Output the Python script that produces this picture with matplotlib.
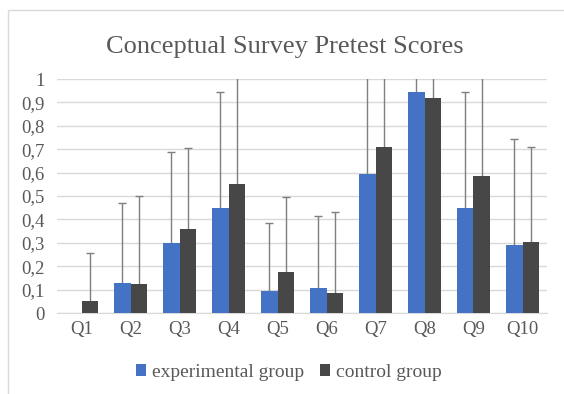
import matplotlib.pyplot as plt
from matplotlib.patches import Rectangle
import numpy as np

questions = ['Q1', 'Q2', 'Q3', 'Q4', 'Q5', 'Q6', 'Q7', 'Q8', 'Q9', 'Q10']
experimental = [0.0, 0.13, 0.30, 0.45, 0.095, 0.105, 0.595, 0.945, 0.45, 0.29]
control = [0.05, 0.125, 0.36, 0.55, 0.175, 0.085, 0.71, 0.92, 0.585, 0.305]
# upper error bar lengths (std dev), only the top half is shown; Q1 experimental has none
exp_err = [np.nan, 0.34, 0.39, 0.495, 0.29, 0.31, 0.52, 0.30, 0.495, 0.455]
ctl_err = [0.205, 0.375, 0.345, 0.50, 0.32, 0.345, 0.45, 0.31, 0.47, 0.405]

plt.rcParams['font.family'] = ['Liberation Serif', 'DejaVu Serif']
text_col = '#595959'
err_col = '#7f7f7f'

fig = plt.figure(figsize=(5.64, 3.94), dpi=100)
ax = fig.add_axes([57 / 564, 81 / 394, 490 / 564, 234 / 394])

x = np.arange(len(questions))
w = 0.33
groups = [(x - w / 2, experimental, exp_err, '#4472C4', 'experimental group'),
          (x + w / 2, control, ctl_err, '#474747', 'control group')]
for pos, vals, err, col, lab in groups:
    vals = np.array(vals)
    top = vals + np.array(err)
    ax.bar(pos, vals, w, color=col, label=lab, zorder=3)
    # upper half of the error bar only, cap at the top
    ax.vlines(pos, vals, top, color=err_col, linewidth=1.0, zorder=2.5)
    ax.plot(pos, top, ls='none', marker='_', ms=6, mew=1.0, color=err_col,
            zorder=2.5, clip_on=True)

ax.set_xlim(-0.5, len(x) - 0.5)
ax.set_ylim(0, 1)
ax.set_yticks(np.arange(0, 1.01, 0.1))
ax.set_yticklabels(['0'] + [f'0,{i}' for i in range(1, 10)] + ['1'])
ax.set_xticks(x)
ax.set_xticklabels(questions)
ax.tick_params(length=0, labelsize=13.5, colors=text_col)
ax.tick_params(axis='x', pad=6)
ax.tick_params(axis='y', pad=9)
ax.grid(axis='y', color='#d9d9d9', linewidth=1.0, zorder=0)
for s in ['top', 'right', 'left']:
    ax.spines[s].set_visible(False)
ax.spines['bottom'].set_color('#d9d9d9')

fig.text(0.505, 0.865, 'Conceptual Survey Pretest Scores', ha='center',
         fontsize=19, color=text_col)
fig.legend(loc='center', bbox_to_anchor=(0.512, 0.055), ncol=2, frameon=False,
           fontsize=14, handlelength=0.55, handleheight=0.55, handletextpad=0.3,
           columnspacing=0.8, labelcolor=text_col)

fig.patches.append(Rectangle((8 / 564, -0.1), 1.2, (384 + 39.4) / 394,
                             transform=fig.transFigure, fill=False,
                             edgecolor='#d9d9d9', linewidth=1.0))

fig.savefig('out.png', dpi=100)
